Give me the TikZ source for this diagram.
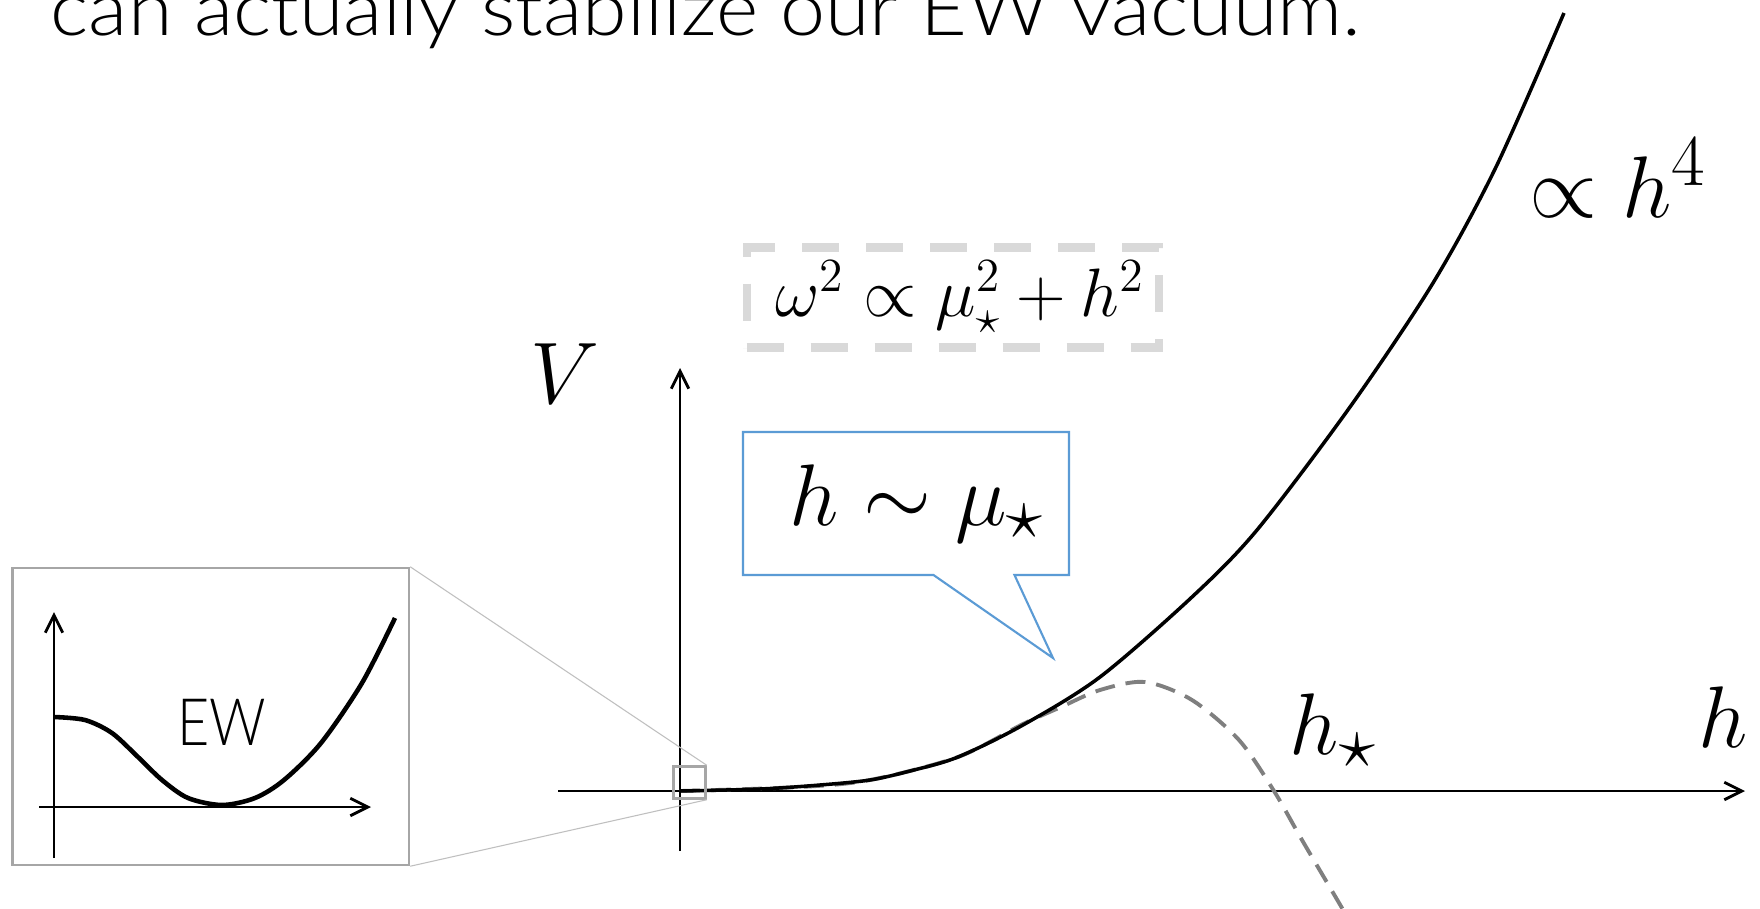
\documentclass[tikz,border=0pt]{standalone}
\usepackage{amsmath}
\usepackage{amssymb}
\usepackage[no-math]{fontspec}
\IfFontExistsTF{Lato Light}{\setmainfont{Lato Light}}{%
  \IfFontExistsTF{Open Sans Light}{\setmainfont{Open Sans Light}}{\setmainfont{Fira Sans}}}
\usetikzlibrary{arrows.meta, shapes.callouts, positioning}
\definecolor{calloutblue}{HTML}{5B9BD5}
\definecolor{boxgray}{HTML}{D9D9D9}
\definecolor{curvegray}{HTML}{7F7F7F}
\definecolor{framegray}{HTML}{A6A6A6}
\definecolor{zoomgray}{HTML}{BFBFBF}
\tikzset{
    axis/.style={line width=0.8pt, -{Straight Barb[length=5pt, width=5pt]}},
    potential/.style={line width=1pt},
    mathlabel/.style={inner sep=0pt, font=\fontsize{24.88}{29}\selectfont},
    slidetext/.style={inner sep=0pt, font=\fontsize{21.5}{25}\selectfont}
}

\begin{document}
\begin{tikzpicture}
        % Canvas, title and labels:
        \path[fill=white, use as bounding box] (0, 0) rectangle (17.6, 9.08);
        \node[slidetext, anchor=base west] (title) at (0.50, 8.73){\scalebox{1.07}[1]{can actually stabilize our EW vacuum.}};
        \node[draw=boxgray, line width=2.3pt, dash pattern=on 0.37cm off 0.27cm, minimum width=4.12cm, minimum height=1.0cm, inner sep=0pt, font=\fontsize{20.74}{24}\selectfont] (freq) at (9.526, 6.105){\hspace{0.14cm}\scalebox{0.94}{$\omega^2 \propto \mu_\star^2 + h^2$}};
        \node[rectangle callout, draw=calloutblue, line width=0.6pt, minimum width=3.26cm, minimum height=1.43cm, callout absolute pointer={(10.53, 2.50)}, callout pointer width=0.81cm, mathlabel] (scale) at (9.06, 4.045){\hspace{0.22cm}$h \sim \mu_\star$};
        \node[mathlabel] (Vlabel) at (5.65, 5.34){$V$};
        \node[mathlabel, anchor=base] (hlabel) at (17.23, 1.61){$h$};
        \node[mathlabel, anchor=base west] (hstar) at (12.89, 1.54){$h_\star$};
        \node[mathlabel, anchor=base west] (quartic) at (15.29, 6.91){$\propto h^4$};
        % Main axes and potentials:
        \draw[axis] (5.58, 1.17) -- (17.45, 1.17);
        \draw[axis] (6.80, 0.57) -- (6.80, 5.40);
        \draw[curvegray, line width=1.1pt, dash pattern=on 0.2cm off 0.11cm] plot[smooth] coordinates {(6.80, 1.17) (8.00, 1.21) (8.70, 1.28) (9.58, 1.51) (10.23, 1.84) (10.61, 2.01) (11.00, 2.18) (11.45, 2.26) (11.92, 2.08) (12.39, 1.68) (12.74, 1.17) (13.02, 0.68) (13.42, 0.00) (13.50, -0.15)};
        \draw[potential] plot[smooth] coordinates {(6.80, 1.17) (7.60, 1.19) (8.20, 1.23) (8.70, 1.28) (9.10, 1.37) (9.58, 1.51) (10.23, 1.83) (11.00, 2.31) (11.92, 3.11) (12.57, 3.78) (13.50, 5.01) (14.33, 6.25) (14.96, 7.41) (15.64, 8.95)};
        % Zoomed inset of the EW minimum:
        \node[draw=framegray, line width=0.7pt, minimum width=0.32cm, minimum height=0.32cm, inner sep=0pt] (zoombox) at (6.895, 1.255){};
        \node[draw=framegray, line width=0.7pt, minimum width=3.965cm, minimum height=2.97cm, inner sep=0pt] (inset) at (2.1075, 1.915){};
        \draw[zoomgray, line width=0.3pt] (inset.north east) -- (zoombox.north east);
        \draw[zoomgray, line width=0.3pt] (inset.south east) -- (zoombox.south east);
        \draw[axis] (0.39, 1.01) -- (3.71, 1.01);
        \draw[axis] (0.54, 0.50) -- (0.54, 2.96);
        \draw[line width=1.3pt] plot[smooth] coordinates {(0.54, 1.91) (0.85, 1.88) (1.12, 1.75) (1.38, 1.51) (1.62, 1.28) (1.88, 1.10) (2.22, 1.03) (2.55, 1.10) (2.84, 1.28) (3.21, 1.65) (3.62, 2.25) (3.95, 2.90)};
        \node[inner sep=0pt, font=\fontsize{18.6}{22}\selectfont, anchor=base west] (ew) at (1.77, 1.63){\scalebox{0.85}[1]{EW}};
    \end{tikzpicture}
\end{document}
